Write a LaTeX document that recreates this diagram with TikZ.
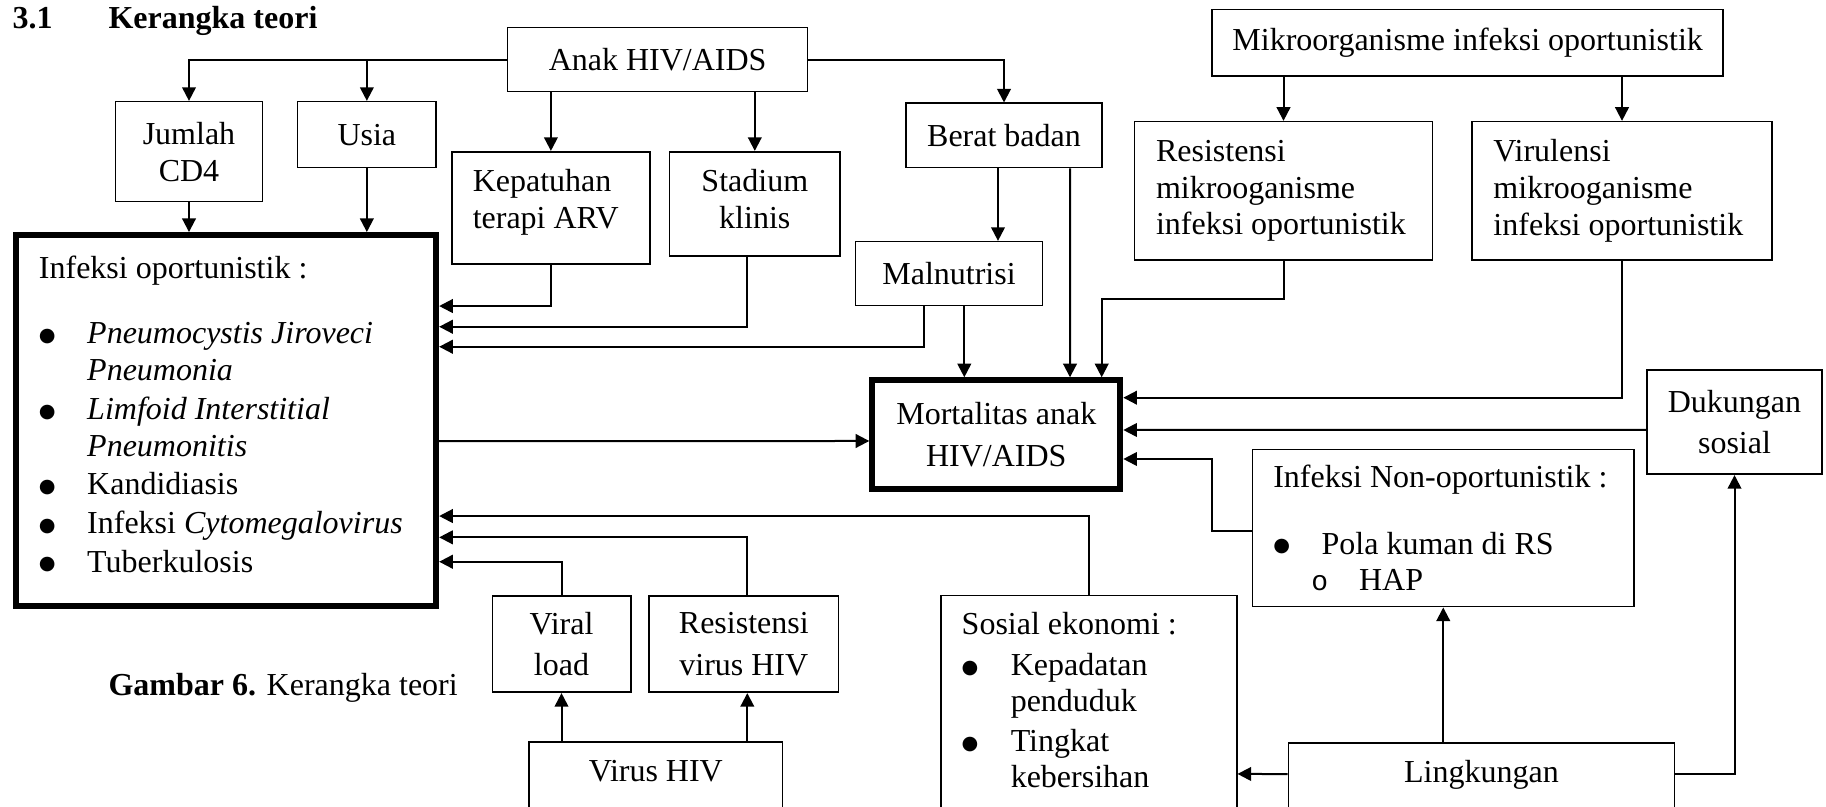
\documentclass[tikz,border=0pt]{standalone}
\usepackage{fontspec}
\setmainfont{Liberation Serif}
\newfontfamily\monofont{Liberation Mono}
\newfontfamily\simbolfont{DejaVu Sans}
\usetikzlibrary{calc,arrows.meta}
\newcommand{\titik}{\raisebox{0.8pt}{\fontsize{7.2}{7.2}\simbolfont ●}}

\begin{document}
\begin{tikzpicture}[x=0.375pt, y=-0.375pt,
    font=\fontsize{12}{13.8}\selectfont,
    kotak/.style={draw, line width=0.6pt, inner sep=0pt, align=center},
    tebal/.style={draw, line width=2.25pt, inner sep=0pt, align=center},
    panah/.style={line width=0.75pt, -{Triangle[length=5.1pt, width=5.1pt]}}]
    \useasboundingbox (0,0) rectangle (1826,807);
    \clip (0,0) rectangle (1826,807);

    \node[anchor=base west, inner sep=0pt] (judul) at (12,29) {\textbf{\makebox[36pt][l]{3.1}Kerangka teori}};
    \node[anchor=base west, inner sep=0pt] (keterangan) at (108,695) {\textbf{Gambar 6.} Kerangka teori};

    % baris atas
    \node[kotak, minimum width=112.5pt, minimum height=24pt] (anak) at (657.65,59.7) {Anak HIV/AIDS};
    \node[kotak, minimum width=55pt, minimum height=37.5pt] (jumlah) at (189,151.7) {Jumlah\\CD4};
    \node[kotak, minimum width=51.9pt, minimum height=24.75pt] (usia) at (366.85,134.7) {Usia};
    \node[kotak, minimum width=74.3pt, minimum height=42.1pt, text width=58.6pt, align=flush left] (kepatuhan) at (550.9,207.85) {Kepatuhan\\terapi ARV\rule[-6.7pt]{0pt}{0pt}};
    \node[kotak, minimum width=63.9pt, minimum height=39.1pt] (stadium) at (754.8,203.85) {Stadium\\klinis\rule[-3.7pt]{0pt}{0pt}};
    \node[kotak, minimum width=73.5pt, minimum height=24.15pt] (berat) at (1004,135.5) {Berat badan};
    \node[kotak, minimum width=70pt, minimum height=24pt] (malnutrisi) at (949,273.7) {Malnutrisi};
    \node[kotak, minimum width=191.7pt, minimum height=25pt] (mikro) at (1467.65,42.65) {Mikroorganisme infeksi oportunistik};
    \node[kotak, minimum width=111.75pt, minimum height=51.9pt, text width=95.6pt, align=flush left] (resmikro) at (1283.5,190.85) {Resistensi\\mikrooganisme\\infeksi oportunistik};
    \node[kotak, minimum width=112.5pt, minimum height=51.9pt, text width=96.4pt, align=flush left] (virulensi) at (1622,190.85) {Virulensi\\mikrooganisme\\infeksi oportunistik};

    % kotak tengah
    \node[tebal, minimum width=157.5pt, minimum height=139.2pt, text width=140.4pt, align=flush left] (infeksi) at (226.15,420.65) {Infeksi oportunistik :\\[10.7pt]
        \makebox[18.1pt][l]{\titik}\textit{Pneumocystis Jiroveci}\\
        \hspace*{18.1pt}\textit{Pneumonia}\\[0.7pt]
        \makebox[18.1pt][l]{\titik}\textit{Limfoid Interstitial}\\
        \hspace*{18.1pt}\textit{Pneumonitis}\\[0.7pt]
        \makebox[18.1pt][l]{\titik}Kandidiasis\\[0.7pt]
        \makebox[18.1pt][l]{\titik}Infeksi \textit{Cytomegalovirus}\\[0.7pt]
        \makebox[18.1pt][l]{\titik}Tuberkulosis\rule[-5pt]{0pt}{0pt}};
    \node[tebal, minimum width=93pt, minimum height=40.65pt, font=\fontsize{12}{16}\selectfont] (mortalitas) at (996.3,434.5) {Mortalitas anak\\HIV/AIDS};
    \node[kotak, minimum width=65.6pt, minimum height=39.1pt, font=\fontsize{12}{15.15}\selectfont] (dukungan) at (1734.5,422.15) {Dukungan\\sosial};
    \node[kotak, minimum width=143.2pt, minimum height=59pt, text width=127.5pt, align=flush left] (nonop) at (1443.25,528) {Infeksi Non-oportunistik :\\[11.2pt]
        \makebox[18.15pt][l]{\titik}Pola kuman di RS\\
        \hspace*{14.3pt}\makebox[17.9pt][l]{\fontsize{10.5}{10.5}\monofont o}HAP};

    % baris bawah
    \node[kotak, minimum width=51.9pt, minimum height=36.1pt, font=\fontsize{12}{15.6}\selectfont] (viral) at (561.5,644.15) {Viral\\load};
    \node[kotak, minimum width=70.9pt, minimum height=36.1pt, font=\fontsize{12}{15.6}\selectfont] (resvirus) at (743.8,644.15) {Resistensi\\virus HIV};
    \node[kotak, minimum width=95.1pt, minimum height=32.9pt] (virus) at (655.85,786.15) {Virus HIV\rule[-11.3pt]{0pt}{0pt}};
    \node[kotak, minimum width=111pt, minimum height=87.9pt, text width=95.25pt, align=flush left, font=\fontsize{12}{13.45}\selectfont] (sosial) at (1088.7,712.85) {Sosial ekonomi :\\[1.8pt]
        \makebox[18.4pt][l]{\titik}Kepadatan\\
        \hspace*{18.4pt}penduduk\\[1.8pt]
        \makebox[18.4pt][l]{\titik}Tingkat\\
        \hspace*{18.4pt}kebersihan\rule[-9.7pt]{0pt}{0pt}};
    \node[kotak, minimum width=144.8pt, minimum height=32.7pt] (lingkungan) at (1481.4,786.35) {Lingkungan\rule[-11.1pt]{0pt}{0pt}};

    % panah
    \draw[panah] (anak.west) -| (jumlah.north);
    \draw[panah] (anak.west) -| (usia.north);
    \draw[panah] (anak.south -| kepatuhan.north) -- (kepatuhan.north);
    \draw[panah] (anak.south -| stadium.north) -- (stadium.north);
    \draw[panah] (anak.east) -| (berat.north);
    \draw[panah] (mikro.south -| resmikro.north) -- (resmikro.north);
    \draw[panah] (mikro.south -| virulensi.north) -- (virulensi.north);
    \draw[panah] (jumlah.south) -- (jumlah.south |- infeksi.north);
    \draw[panah] (usia.south) -- (usia.south |- infeksi.north);
    \draw[panah] (kepatuhan.south) |- ($(infeksi.north east)+(0,74)$);
    \draw[panah] ($(stadium.south)+(-7.4,0)$) |- ($(infeksi.north east)+(0,94.7)$);
    \draw[panah] ($(malnutrisi.south)+(-24.7,0)$) |- ($(infeksi.north east)+(0,114.7)$);
    \draw[panah] ($(berat.south)+(-6,0)$) -- ($(malnutrisi.north)+(49,0)$);
    \draw[panah] ($(malnutrisi.south)+(15.3,0)$) -- ($(mortalitas.north)+(-32,0)$);
    \draw[panah] ($(berat.south)+(66,0)$) -- ($(mortalitas.north)+(73.7,0)$);
    \draw[panah] (resmikro.south) -- ++(0,38.3) -| ($(mortalitas.north)+(105.4,0)$);
    \draw[panah] (virulensi.south) |- ($(mortalitas.north east)+(0,20.4)$);
    \draw[panah] ($(dukungan.west)+(0,7.85)$) -- ($(mortalitas.north east)+(0,52.7)$);
    \draw[panah] ($(nonop.west)+(0,2.7)$) -- ++(-40,0) |- ($(mortalitas.north east)+(0,81.7)$);
    \draw[panah] ($(infeksi.north east)+(0,209)$) -- ($(mortalitas.west)+(0,6.5)$);
    \draw[panah] (nonop.south |- lingkungan.north) -- (nonop.south);
    \draw[panah] ($(lingkungan.north east)+(0,32.1)$) -| (dukungan.south);
    \draw[panah] ($(lingkungan.north west)+(0,32.1)$) -- ($(sosial.north east)+(0,179.1)$);
    \draw[panah] (sosial.north) |- ($(infeksi.north east)+(0,284)$);
    \draw[panah] ($(resvirus.north)+(3.5,0)$) |- ($(infeksi.north east)+(0,305.3)$);
    \draw[panah] (viral.north) |- ($(infeksi.north east)+(0,329.7)$);
    \draw[panah] (virus.north -| viral.south) -- (viral.south);
    \draw[panah] ($(virus.north)+(91.45,0)$) -- ($(resvirus.south)+(3.5,0)$);
\end{tikzpicture}
\end{document}
